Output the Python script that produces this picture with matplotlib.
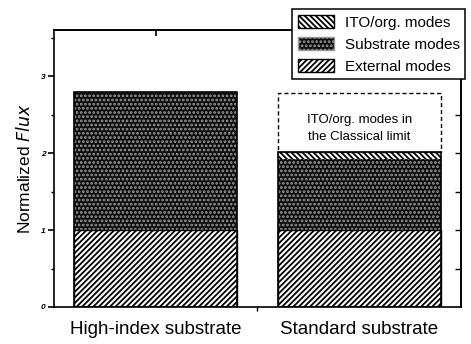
import numpy as np
import matplotlib
matplotlib.use('Agg')
import matplotlib.pyplot as plt
from matplotlib.patches import Rectangle, Patch

plt.rcParams.update({
    'font.family': ['Liberation Sans', 'DejaVu Sans'],
    'hatch.linewidth': 1.3,
})

categories = ['High-index substrate', 'Standard substrate']
external = [1.0, 1.0]
substrate = [1.8, 0.92]
ito = [0.0, 0.10]
classical_top = 2.78   # dashed box top (ITO/org. modes in the classical limit)

x = np.array([1, 2])
width = 0.8

fig = plt.figure(figsize=(4.71, 3.44), dpi=100)
ax = fig.add_axes([0.1146, 0.1076, 0.8642, 0.8052])

ext = np.array(external)
sub = np.array(substrate)
it = np.array(ito)

sub_face = '#0d0d0d'
sub_dots = '#9a9a9a'
# external modes: fine forward diagonal
ax.bar(x, ext, width, color='white', edgecolor='black', hatch='//////', linewidth=0)
# substrate modes: dark with light dots
ax.bar(x, sub, width, bottom=ext, color=sub_face, edgecolor=sub_dots, hatch='....', linewidth=0)
# ITO / organic modes: back diagonal
ax.bar(x, it, width, bottom=ext + sub, color='white', edgecolor='black', hatch='\\\\\\\\\\\\', linewidth=0)
# outlines
ax.bar(x, ext + sub + it, width, fill=False, edgecolor='black', linewidth=1.2)
ax.bar(x, ext, width, fill=False, edgecolor='black', linewidth=1.0)

# dashed box for classical limit
top2 = ext[1] + sub[1] + it[1]
ax.add_patch(Rectangle((x[1] - width / 2, top2), width, classical_top - top2,
                       fill=False, linestyle=(0, (3, 2)), edgecolor='black', linewidth=1.0))
ax.text(x[1], 2.32, 'ITO/org. modes in\nthe Classical limit',
        ha='center', va='center', fontsize=9.5, linespacing=1.5)

ax.set_xlim(0.5, 2.5)
ax.set_ylim(0, 3.6)
ax.set_yticks([0, 1, 2, 3])
ax.set_yticklabels(['0', '1', '2', '3'], fontsize=6, fontweight='bold', fontstyle='italic')
ax.set_yticks(np.arange(0.5, 3.6, 1.0), minor=True)
ax.set_xticks(x)
ax.set_xticklabels(categories, fontsize=13.5)
ax.tick_params(axis='x', length=0, pad=10)
ax.tick_params(axis='y', which='major', direction='out', length=4, width=1.2, pad=2)
ax.tick_params(axis='y', which='minor', direction='out', length=2.5, width=1.0)
for s in ax.spines.values():
    s.set_linewidth(1.2)

# inward ticks on the right and top spines
right = ax.secondary_yaxis('right')
right.set_yticks(np.arange(0.5, 3.1, 0.5))
right.tick_params(direction='in', length=4, width=1.0, labelright=False)
right.spines['right'].set_linewidth(1.2)
top = ax.secondary_xaxis('top')
top.set_xticks([1])
top.tick_params(direction='in', length=4, width=1.2, labeltop=False)
top.spines['top'].set_linewidth(1.2)
ax.set_xticks([1.5], minor=True)
ax.tick_params(axis='x', which='minor', direction='out', length=3, width=1.0)

ax.set_ylabel('Normalized $\\it{Flux}$', fontsize=12.5, labelpad=6)

handles = [
    Patch(facecolor='white', edgecolor='black', hatch='\\\\\\\\\\\\'),
    Patch(facecolor=sub_face, edgecolor=sub_dots, hatch='....'),
    Patch(facecolor='white', edgecolor='black', hatch='//////'),
]
labels = ['ITO/org. modes', 'Substrate modes', 'External modes']
leg = fig.legend(handles, labels, loc='upper right', bbox_to_anchor=(1.004, 0.995),
                 fontsize=11, frameon=True, fancybox=False, edgecolor='black',
                 framealpha=1, handlelength=2.4, handleheight=1.0, labelspacing=0.45,
                 borderpad=0.35, handletextpad=0.7)
leg.get_frame().set_linewidth(1.1)

plt.savefig('out.png', dpi=100)
